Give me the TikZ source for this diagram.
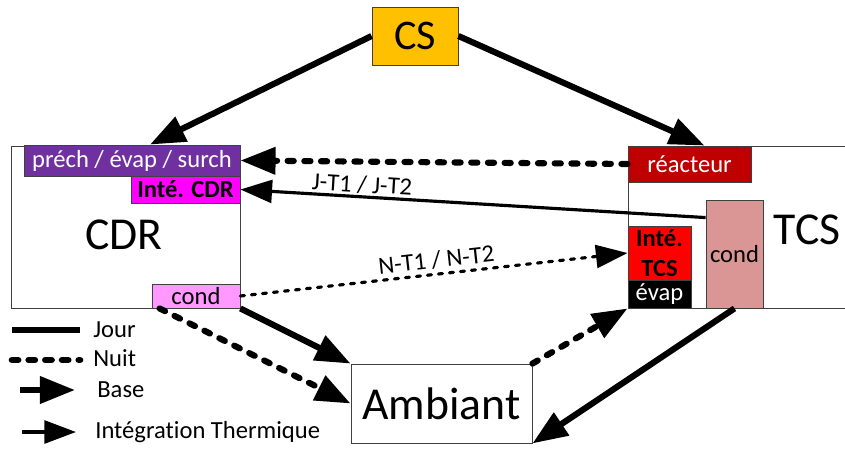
\documentclass[tikz,border=0pt]{standalone}
\usepackage{fontspec}
\setmainfont{Carlito}[Ligatures=NoCommon]
\usetikzlibrary{arrows.meta,positioning}

\definecolor{csjaune}{HTML}{FFC000}
\definecolor{violet}{HTML}{7030A0}
\definecolor{fuchsia}{HTML}{FF00FF}
\definecolor{rose}{HTML}{FF99FF}
\definecolor{rouge}{HTML}{C00000}
\definecolor{vieuxrose}{HTML}{D99694}

\tikzset{
  box/.style={draw=black!75, line width=0.5pt, inner sep=0pt, font=\fontsize{14}{16}\selectfont},
  big/.style={font=\fontsize{26}{30}\selectfont},
  base/.style={line width=3.5pt, -{Triangle[length=20pt,width=15pt]}},
  integ/.style={line width=1.8pt, -{Triangle[length=18pt,width=13pt]}},
  nuit/.style={dash pattern=on 3.5pt off 6pt, line cap=round},
  nuitfin/.style={dash pattern=on 2.3pt off 4pt, line cap=round},
  leg/.style={anchor=west, inner sep=0pt, font=\fontsize{14}{16}\selectfont}
}

\begin{document}
\begin{tikzpicture}[x=0.02cm, y=-0.02cm]
    \useasboundingbox (0,0) rectangle (845,450);

    % Source
    \node[box, font=\fontsize{24}{28}\selectfont, fill=csjaune, minimum width=1.72cm, minimum height=1.16cm] (cs) at (415,36) {CS};

    % CDR
    \node[box, minimum width=4.58cm, minimum height=3.24cm] (cdr) at (125.5,227) {};
    \node[big] (cdrlbl) at (124,235) {CDR};
    \node[box, fill=violet, text=white, minimum width=4.32cm, minimum height=0.62cm] (prech) at (132,160.5) {préch / évap / surch};
    \node[box, fill=fuchsia, minimum width=2.18cm, minimum height=0.54cm, font=\fontsize{14}{16}\selectfont\bfseries] (intecdr) at (185.5,189.5) {Inté. CDR};
    \node[box, fill=rose, minimum width=1.76cm, minimum height=0.48cm] (cdrcond) at (196,296) {cond};

    % TCS
    \node[box, minimum width=4.48cm, minimum height=3.24cm] (tcs) at (740,227) {};
    \node[big] (tcslbl) at (807,230) {TCS};
    \node[box, fill=rouge, text=white, minimum width=2.46cm, minimum height=0.72cm] (reac) at (689.5,164) {réacteur};
    \node[box, fill=vieuxrose, minimum width=1.14cm, minimum height=2.16cm] (tcond) at (734.5,254) {cond};
    \node[box, fill=red, minimum width=1.26cm, minimum height=1.08cm, align=center, font=\fontsize{14}{17}\selectfont\bfseries] (intetcs) at (659.5,253) {Inté.\\TCS};
    \node[box, fill=black, text=white, minimum width=1.26cm, minimum height=0.56cm] (evap) at (659.5,294) {évap};

    % Ambiant
    \node[box, big, fill=white, minimum width=3.62cm, minimum height=1.58cm] (amb) at (441.5,403.5) {Ambiant};

    % Base
    \draw[base] (cs.west) -- ([xshift=0.36cm]prech.north);
    \draw[base] (cs.east) -- ([xshift=0.3cm]reac.north);
    \draw[base, nuit] (reac.west) -- (prech.east);
    \draw[base] (cdrcond.south east) -- (amb.north west);
    \draw[base, nuit] ([xshift=0.16cm]cdrcond.south west) -- (amb.west);
    \draw[base, nuit] (amb.north east) -- (evap.south west);
    \draw[base] (tcond.south) -- (amb.south east);

    % Integration thermique
    \draw[integ] ([yshift=-0.36cm]tcond.north west) -- node[pos=0.74, sloped, above, inner sep=1pt, font=\fontsize{14}{16}\selectfont] (jlbl) {J-T1 / J-T2} (intecdr.east);
    \draw[integ, nuitfin] (cdrcond.east) -- node[pos=0.51, sloped, above, inner sep=2pt, font=\fontsize{14}{16}\selectfont] (nlbl) {N-T1 / N-T2} (intetcs.west);

    % Legende
    \coordinate (j1) at (12,330);
    \coordinate (j2) at (80,330);
    \coordinate (n1) at (12,360);
    \coordinate (n2) at (80,360);
    \coordinate (b1) at (20,390);
    \coordinate (b2) at (75,390);
    \coordinate (i1) at (22,432);
    \coordinate (i2) at (76,432);
    \draw[line width=3.8pt] (j1) -- (j2);
    \draw[line width=3.8pt, nuit] (n1) -- (n2);
    \draw[base] (b1) -- (b2);
    \draw[integ] (i1) -- (i2);
    \node[leg] (ljour) at (93,330) {Jour};
    \node[leg] (lnuit) at (93,358) {Nuit};
    \node[leg] (lbase) at (97,390) {Base};
    \node[leg] (linteg) at (95,432) {Intégration Thermique};
\end{tikzpicture}
\end{document}
